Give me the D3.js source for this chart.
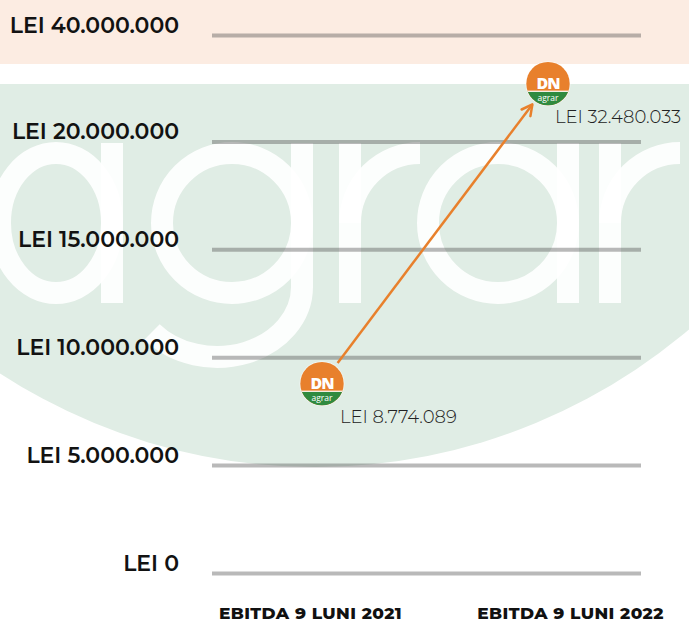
<!DOCTYPE html>
<html>
<head>
<meta charset="utf-8">
<script src="https://cdn.jsdelivr.net/npm/d3@7"></script>
<style>
  body { margin: 0; background: #fff; }
  svg { display: block; font-family: "Montserrat", "Open Sans", sans-serif; }
</style>
</head>
<body>
<svg id="chart" width="689" height="622"></svg>
<script>
//data
const categories = ["EBITDA 9 LUNI 2021", "EBITDA 9 LUNI 2022"];
const ebitda = [8774089, 32480033];
const yTicks = [0, 5000000, 10000000, 15000000, 20000000, 40000000];

const W = 689, H = 622;
const orange = "#e8802c", green = "#2f8a3f";

const ro = d3.formatLocale({decimal: ",", thousands: ".", grouping: [3], currency: ["", ""]});
const fmt = d => "LEI " + ro.format(",d")(d);

//scales (broken axis above 20M)
const y = d3.scaleLinear()
    .domain([0, 20000000, 35000000, 40000000])
    .range([573, 141.4, 72, 35]);
const xLabel = d3.scalePoint().domain(categories).range([310, 570]);
const xMark = d3.scalePoint().domain(categories).range([322, 548]);

const svg = d3.select("#chart");
const defs = svg.append("defs");

//backgrounds
svg.append("rect").attr("width", W).attr("height", H).attr("fill", "#fff");
svg.append("rect").attr("width", W).attr("height", 64).attr("fill", "#fcece2");

defs.append("clipPath").attr("id", "greenClip")
    .append("rect").attr("x", 0).attr("y", 84).attr("width", W).attr("height", H);
defs.append("clipPath").attr("id", "circleClip")
    .append("circle").attr("cx", 315).attr("cy", -110).attr("r", 577);

const bg = svg.append("g").attr("clip-path", "url(#greenClip)");
bg.append("circle").attr("cx", 315).attr("cy", -110).attr("r", 577).attr("fill", "#e0ede5");

//"agrar" watermark
const wm = bg.append("g").attr("clip-path", "url(#circleClip)")
    .attr("fill", "none").attr("stroke", "#fff").attr("stroke-opacity", 0.9).attr("stroke-width", 22);
wm.append("ellipse").attr("cx", 56).attr("cy", 223).attr("rx", 56).attr("ry", 70);
wm.append("line").attr("x1", 112).attr("x2", 112).attr("y1", 143).attr("y2", 303);
wm.append("circle").attr("cx", 232).attr("cy", 223).attr("r", 70);
wm.append("line").attr("x1", 302).attr("x2", 302).attr("y1", 143).attr("y2", 287);
wm.append("path").attr("d", "M302,287 A85,70 0 0 1 152,332");
wm.append("line").attr("x1", 350).attr("x2", 350).attr("y1", 143).attr("y2", 303);
wm.append("path").attr("d", "M350,223 A70,70 0 0 1 420,153");
wm.append("circle").attr("cx", 498).attr("cy", 223).attr("r", 70);
wm.append("line").attr("x1", 568).attr("x2", 568).attr("y1", 143).attr("y2", 303);
wm.append("line").attr("x1", 610).attr("x2", 610).attr("y1", 143).attr("y2", 303);
wm.append("path").attr("d", "M610,223 A70,70 0 0 1 680,153");

//grid
svg.append("g")
    .attr("class", "grid")
    .attr("transform", "translate(212,0)")
    .call(d3.axisRight(y).tickValues(yTicks).tickSize(429).tickFormat(""))
    .call(g => g.select(".domain").remove())
    .call(g => g.selectAll("line")
        .attr("stroke", "rgba(70,70,70,0.38)")
        .attr("stroke-width", 4));

//y axis labels
svg.append("g")
    .attr("transform", "translate(179,0)")
    .call(d3.axisLeft(y).tickValues(yTicks).tickSize(0).tickPadding(0).tickFormat(fmt))
    .call(g => g.select(".domain").remove())
    .call(g => g.selectAll("text")
        .attr("dy", -3)
        .attr("fill", "#121212")
        .style("font-family", "'Montserrat','Open Sans',sans-serif")
        .style("font-size", "22px")
        .style("font-weight", 600));

//x axis labels
svg.append("g")
    .attr("transform", "translate(0,619)")
    .call(d3.axisBottom(xLabel).tickSize(0).tickPadding(0))
    .call(g => g.select(".domain").remove())
    .call(g => g.selectAll("text")
        .attr("y", 0).attr("dy", 0)
        .attr("fill", "#111")
        .style("font-family", "'Montserrat','Open Sans',sans-serif")
        .style("font-size", "17px")
        .style("font-weight", 800)
        .style("letter-spacing", "0.4px"));

//arrow
defs.append("marker")
    .attr("id", "arrowHead")
    .attr("viewBox", "0 0 14 14")
    .attr("refX", 12.5).attr("refY", 7)
    .attr("markerWidth", 14).attr("markerHeight", 14)
    .attr("markerUnits", "userSpaceOnUse")
    .attr("orient", "auto")
    .append("path")
    .attr("d", "M2,1.5 L12.5,7 L2,12.5")
    .attr("fill", "none").attr("stroke", orange)
    .attr("stroke-width", 2.5).attr("stroke-linejoin", "round").attr("stroke-linecap", "round");

const pts = categories.map((c, i) => ({x: xMark(c), y: y(ebitda[i]), v: ebitda[i]}));
const dx = pts[1].x - pts[0].x, dy = pts[1].y - pts[0].y;
const len = Math.hypot(dx, dy), ux = dx / len, uy = dy / len;
const off = 26;
svg.append("line")
    .attr("x1", pts[0].x + ux * off).attr("y1", pts[0].y + uy * off)
    .attr("x2", pts[1].x - ux * off).attr("y2", pts[1].y - uy * off)
    .attr("stroke", orange).attr("stroke-width", 2.5)
    .attr("marker-end", "url(#arrowHead)");

//logo markers
defs.append("clipPath").attr("id", "logoClip")
    .append("circle").attr("r", 21.7);

const logos = svg.selectAll(".logo")
    .data(pts)
    .enter()
    .append("g")
    .attr("class", "logo")
    .attr("transform", d => "translate(" + d.x + "," + d.y + ")");

logos.append("circle").attr("r", 22.5).attr("fill", "#fff").attr("fill-opacity", 0.6);
logos.append("circle").attr("r", 21.7).attr("fill", orange);
logos.append("rect")
    .attr("clip-path", "url(#logoClip)")
    .attr("x", -23).attr("y", 8).attr("width", 46).attr("height", 16)
    .attr("fill", green);
logos.append("rect")
    .attr("clip-path", "url(#logoClip)")
    .attr("x", -23).attr("y", 7).attr("width", 46).attr("height", 1.2)
    .attr("fill", "#fff");
logos.append("text")
    .attr("text-anchor", "middle")
    .attr("y", 5)
    .attr("fill", "#fff")
    .style("font-family", "'Open Sans',sans-serif")
    .style("font-size", "16px")
    .style("font-weight", 800)
    .style("letter-spacing", "-1px")
    .text("DN");
logos.append("text")
    .attr("text-anchor", "middle")
    .attr("y", 17.5)
    .attr("fill", "#fff")
    .style("font-family", "'Open Sans',sans-serif")
    .style("font-size", "8.5px")
    .style("font-weight", 400)
    .text("agrar");

//value labels
svg.selectAll(".value")
    .data(pts)
    .enter()
    .append("text")
    .attr("class", "value")
    .attr("x", (d, i) => d.x + (i === 0 ? 18 : 7))
    .attr("y", d => d.y + 39)
    .attr("fill", "#222")
    .style("font-family", "'Montserrat','Open Sans',sans-serif")
    .style("font-size", "18px")
    .style("font-weight", 300)
    .text(d => fmt(d.v));
</script>
</body>
</html>
